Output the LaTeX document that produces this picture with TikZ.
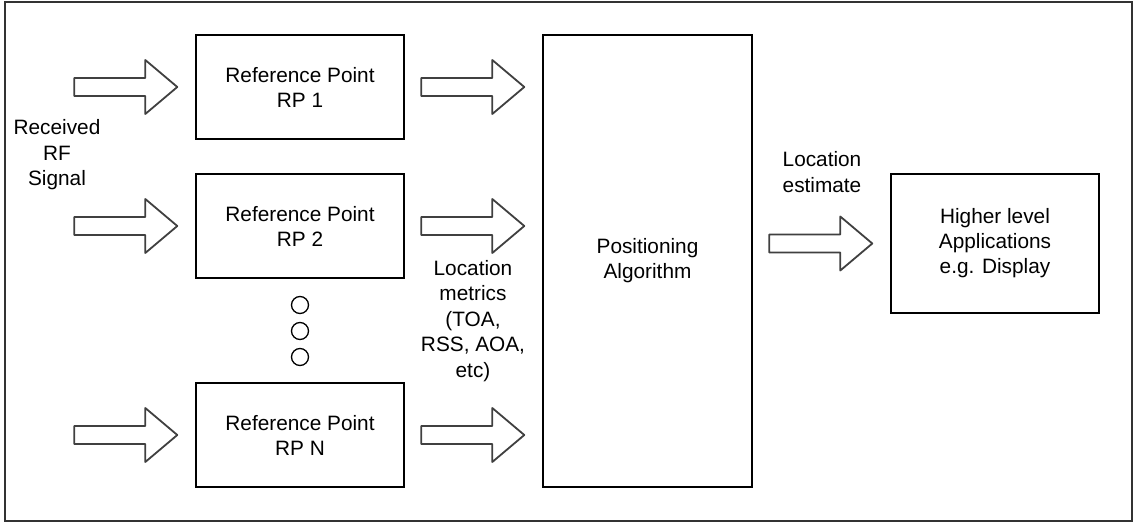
\documentclass[tikz,border=0pt]{standalone}
\usepackage{fontspec}
\setmainfont{Liberation Sans}
\usetikzlibrary{calc}
\tikzset{
  diagram/.style={x=1pt,y=-1pt},
  block/.style={draw=black,line width=1.4pt,fill=white,inner sep=0pt,align=center,
    font=\fontsize{20.8}{25}\selectfont},
  label/.style={inner sep=0pt,align=center,font=\fontsize{20.8}{25.5}\selectfont},
  dot/.style={draw=black,line width=1.3pt,circle,minimum size=17pt,inner sep=0pt},
  fatarrow/.style={draw=black!75,line width=1.8pt,line join=round,fill=white},
  pics/blockarrow/.style={code={
    \draw[fatarrow] (-103,-9) -- (-32,-9) -- (-32,-27) -- (0,0) -- (-32,27)
      -- (-32,9) -- (-103,9) -- cycle;
  }}
}
\begin{document}
\begin{tikzpicture}[diagram]
  % canvas and outer frame
  \fill[white] (0,0) rectangle (1136,525);
  \useasboundingbox (0,0) rectangle (1136,525);
  \draw[black!80,line width=2pt] (5,2) rectangle (1132,521);

  % reference point blocks
  \node[block,minimum width=208pt,minimum height=104pt] (rp1) at (300,87)
    {Reference Point\\RP 1};
  \node[block,minimum width=208pt,minimum height=104pt] (rp2) at (300,226)
    {Reference Point\\RP 2};
  \node[block,minimum width=208pt,minimum height=104pt] (rpn) at (300,435)
    {Reference Point\\RP N};

  % ellipsis between RP 2 and RP N
  \node[dot] (d1) at (300,305) {};
  \node[dot] (d2) at (300,331) {};
  \node[dot] (d3) at (300,357) {};

  % positioning algorithm and application blocks
  \node[block,minimum width=209pt,minimum height=452pt] (pa) at (647.5,261)
    {Positioning\\Algorithm};
  \node[block,minimum width=208pt,minimum height=139pt] (hl) at (995,243.5)
    {Higher level\\Applications\\e.g. Display};

  % incoming signal arrows
  \coordinate (in1) at ($(rp1.west)+(-18,0)$);
  \coordinate (in2) at ($(rp2.west)+(-18,0)$);
  \coordinate (inn) at ($(rpn.west)+(-18,0)$);
  \pic at (in1) {blockarrow};
  \pic at (in2) {blockarrow};
  \pic at (inn) {blockarrow};

  % location metric arrows into the algorithm
  \coordinate (out1) at ($(pa.west |- rp1.east)+(-18,0)$);
  \coordinate (out2) at ($(pa.west |- rp2.east)+(-18,0)$);
  \coordinate (outn) at ($(pa.west |- rpn.east)+(-18,0)$);
  \pic at (out1) {blockarrow};
  \pic at (out2) {blockarrow};
  \pic at (outn) {blockarrow};

  % location estimate arrow
  \coordinate (est) at ($(hl.west)+(-18,0)$);
  \pic at (est) {blockarrow};

  % labels
  \node[label] (rf) at (57,155) {Received\\RF\\Signal};
  \node[label] (lm) at (473,321) {Location\\metrics\\(TOA,\\RSS, AOA,\\etc)};
  \node[label] (le) at (822,172) {Location\\estimate};
\end{tikzpicture}
\end{document}
